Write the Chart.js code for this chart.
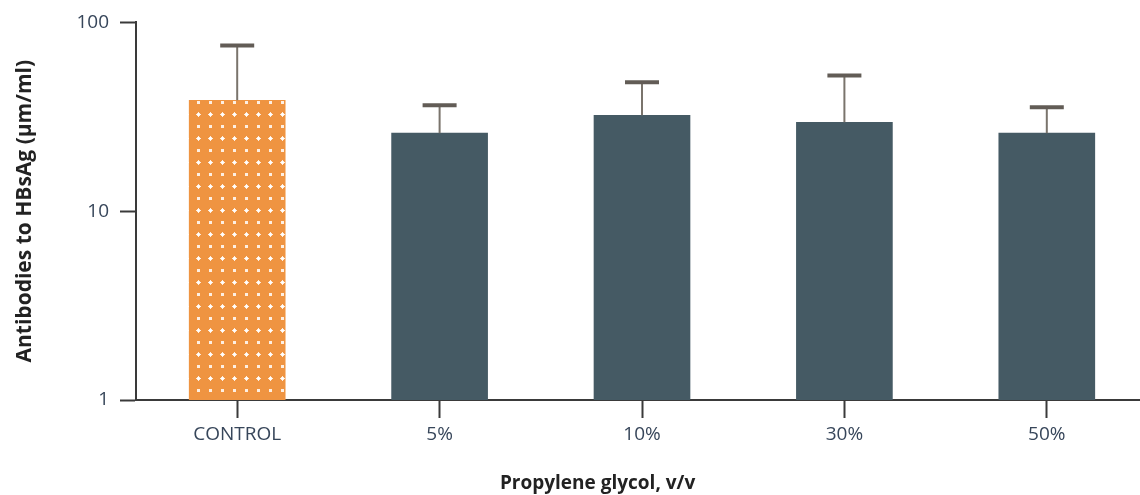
<!DOCTYPE html>
<html>
<head>
<meta charset="utf-8">
<script src="https://cdn.jsdelivr.net/npm/chart.js@4"></script>
<style>
  html, body { margin: 0; padding: 0; background: #fff; overflow: hidden; }
  #wrap { width: 1148px; height: 495px; }
</style>
</head>
<body>
<div id="wrap"><canvas id="myChart"></canvas></div>
<script>
const categories = ['CONTROL', '5%', '10%', '30%', '50%'];
const meanValues = [38.7, 25.9, 32.2, 29.6, 25.9];
const errorTops = [75.5, 36.4, 48.2, 52.4, 35.5];
const yTicks = [1, 10, 100];

const orange = '#EF9441';
const slate = '#455A64';
const axisColor = '#3a3a3a';
const textColor = '#37465a';

// dotted fill for the control bar
function makePattern() {
    const c = document.createElement('canvas');
    c.width = 12;
    c.height = 24;
    const g = c.getContext('2d');
    g.fillStyle = orange;
    g.fillRect(0, 0, 12, 24);
    g.fillStyle = 'rgba(255,255,255,0.85)';
    g.fillRect(5, 5, 3, 3);
    g.fillRect(5, 17, 3, 3);
    g.fillRect(4, 18, 5, 1);
    g.fillRect(6, 16, 1, 5);
    return g.createPattern(c, 'repeat');
}

const errorBars = {
    id: 'errorBars',
    afterDatasetsDraw(chart) {
        const ctx = chart.ctx;
        const meta = chart.getDatasetMeta(0);
        const y = chart.scales.y;
        ctx.save();
        meta.data.forEach((bar, i) => {
            const x = bar.x;
            const yTop = y.getPixelForValue(errorTops[i]);
            ctx.strokeStyle = '#7a746c';
            ctx.lineWidth = 2;
            ctx.beginPath();
            ctx.moveTo(x, bar.y);
            ctx.lineTo(x, yTop);
            ctx.stroke();
            ctx.strokeStyle = '#625c56';
            ctx.lineWidth = 4;
            ctx.beginPath();
            ctx.moveTo(x - 17, yTop);
            ctx.lineTo(x + 17, yTop);
            ctx.stroke();
        });
        ctx.restore();
    }
};

const ctx = document.getElementById('myChart');

const myChart = new Chart(ctx, {
    type: 'bar',
    data: {
        labels: categories,
        datasets: [{
            data: meanValues,
            backgroundColor: [makePattern(), slate, slate, slate, slate],
            borderWidth: 0,
            barThickness: 96
        }]
    },
    options: {
        responsive: true,
        maintainAspectRatio: false,
        animation: false,
        layout: { padding: { top: 22, right: 0, left: 0, bottom: 0 } },
        plugins: {
            legend: { display: false },
            tooltip: { enabled: false }
        },
        scales: {
            x: {
                offset: true,
                grid: {
                    offset: false,
                    drawOnChartArea: false,
                    drawTicks: true,
                    tickLength: 18,
                    tickWidth: 2,
                    color: axisColor
                },
                border: { color: axisColor, width: 2 },
                ticks: {
                    color: textColor,
                    font: { family: 'Open Sans', size: 19 },
                    padding: 5
                },
                title: {
                    display: true,
                    // trailing spaces push the title a bit left, as in the original
                    text: 'Propylene glycol, v/v' + '\u00a0'.repeat(18),
                    color: '#222',
                    font: { family: 'Open Sans', size: 19, weight: 'bold' },
                    padding: { top: 14, bottom: 0 }
                },
                afterFit(scale) { scale.height = 95; }
            },
            y: {
                type: 'logarithmic',
                min: 1,
                max: 100,
                afterBuildTicks(scale) {
                    scale.ticks = yTicks.map(v => ({ value: v }));
                },
                grid: {
                    drawOnChartArea: false,
                    drawTicks: true,
                    tickLength: 16,
                    tickWidth: 2,
                    color: axisColor
                },
                border: { color: axisColor, width: 2 },
                ticks: {
                    color: textColor,
                    font: { family: 'Open Sans', size: 19 },
                    padding: 11,
                    callback: v => String(v)
                },
                title: {
                    display: true,
                    text: 'Antibodies to HBsAg (µm/ml)',
                    color: '#222',
                    font: { family: 'Open Sans', size: 21, weight: 'bold' },
                    padding: { top: 12, bottom: 0 }
                },
                afterFit(scale) { scale.width = 136; }
            }
        }
    },
    plugins: [errorBars]
});
</script>
</body>
</html>
